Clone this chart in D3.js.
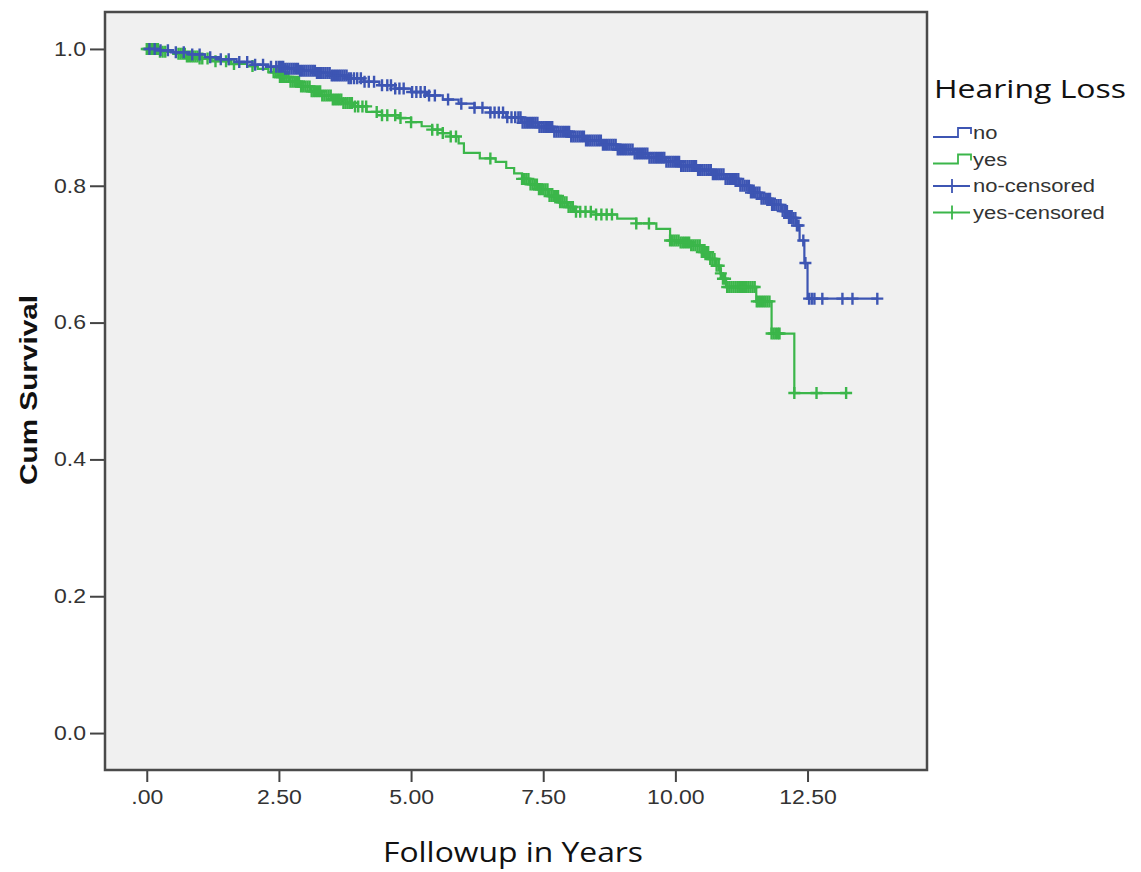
<!DOCTYPE html>
<html>
<head>
<meta charset="utf-8">
<script src="https://cdn.jsdelivr.net/npm/d3@7"></script>
<style>
  body { margin: 0; background: #fff; }
</style>
</head>
<body>
<script>
// step points: time (years) and survival
const noTime = [0, 0.2, 0.5, 0.8, 1.1, 1.4, 1.7, 2.0, 2.3, 2.6, 2.9, 3.2, 3.5, 3.8, 4.1, 4.4, 4.7, 5.0, 5.3, 5.6, 5.9, 6.2, 6.5, 6.8, 7.1, 7.4, 7.7, 8.0, 8.3, 8.6, 8.9, 9.2, 9.5, 9.8, 10.1, 10.4, 10.7, 10.95, 11.2, 11.4, 11.6, 11.8, 12.0, 12.15, 12.29, 12.35, 12.44, 12.5, 13.82];
const noSurv = [1.0, 0.998, 0.995, 0.992, 0.988, 0.985, 0.981, 0.977, 0.974, 0.971, 0.968, 0.965, 0.961, 0.957, 0.952, 0.947, 0.942, 0.937, 0.932, 0.926, 0.92, 0.914, 0.907, 0.9, 0.892, 0.886, 0.879, 0.872, 0.866, 0.86, 0.853, 0.847, 0.841, 0.835, 0.829, 0.823, 0.817, 0.81, 0.8, 0.79, 0.781, 0.772, 0.763, 0.753, 0.742, 0.72, 0.687, 0.635, 0.635];

const yesTime = [0, 0.25, 0.5, 0.75, 1.0, 1.3, 1.6, 1.9, 2.1, 2.3, 2.5, 2.7, 2.9, 3.1, 3.3, 3.5, 3.7, 3.9, 4.16, 4.45, 4.78, 5.0, 5.2, 5.4, 5.6, 5.75, 5.9, 6.0, 6.3, 6.6, 6.8, 6.95, 7.1, 7.25, 7.4, 7.6, 7.8, 7.95, 8.1, 8.5, 8.9, 9.26, 9.64, 9.9, 10.1, 10.27, 10.5, 10.65, 10.77, 10.85, 10.9, 10.96, 11.53, 11.82, 12.25, 13.23];
const yesSurv = [1.0, 0.996, 0.993, 0.989, 0.986, 0.982, 0.978, 0.975, 0.971, 0.966, 0.959, 0.952, 0.945, 0.938, 0.932, 0.926, 0.921, 0.916, 0.908, 0.903, 0.899, 0.893, 0.887, 0.882, 0.877, 0.872, 0.862, 0.848, 0.84, 0.835, 0.826, 0.818, 0.81, 0.802, 0.795, 0.785, 0.776, 0.769, 0.762, 0.758, 0.752, 0.745, 0.737, 0.72, 0.717, 0.713, 0.703, 0.693, 0.683, 0.672, 0.664, 0.652, 0.631, 0.584, 0.497, 0.497];

// censored times
const noCensor = [0.05, 0.15, 0.26, 0.4, 0.55, 0.7, 0.86, 1.0, 1.2, 1.4, 1.55, 1.75, 1.9, 2.05, 2.2, 2.35,
  2.45, 2.5, 2.54, 2.58, 2.62, 2.66, 2.7, 2.74, 2.78, 2.82, 2.86, 2.9, 2.94, 2.98, 3.02, 3.06, 3.1, 3.14, 3.18, 3.22, 3.26, 3.3, 3.34, 3.38, 3.42, 3.46, 3.5, 3.54, 3.58, 3.62, 3.66, 3.7, 3.74, 3.78, 3.82, 3.86, 3.92, 3.98, 4.05, 4.12, 4.2, 4.3, 4.45, 4.55, 4.62, 4.7, 4.78, 4.86, 5.02, 5.1, 5.18, 5.26, 5.34, 5.45, 5.7, 5.95, 6.2, 6.35, 6.5, 6.58, 6.66, 6.74, 6.82, 6.9, 6.97,
  7.03, 7.07, 7.11, 7.15, 7.19, 7.23, 7.27, 7.31, 7.35, 7.39, 7.43, 7.47, 7.51, 7.55, 7.59, 7.63, 7.67, 7.71, 7.75, 7.79, 7.83, 7.87, 7.91, 7.95, 7.99, 8.03, 8.07, 8.11, 8.15, 8.19, 8.23, 8.27, 8.31, 8.35, 8.39, 8.43, 8.47, 8.51, 8.55, 8.59, 8.63, 8.67, 8.71, 8.75, 8.79, 8.83, 8.87, 8.91, 8.95, 8.99,
  9.03, 9.07, 9.11, 9.15, 9.19, 9.23, 9.27, 9.31, 9.35, 9.39, 9.43, 9.47, 9.51, 9.55, 9.59, 9.63, 9.67, 9.71, 9.75, 9.79, 9.83, 9.87, 9.91, 9.95, 9.99, 10.03, 10.07, 10.11, 10.15, 10.19, 10.23, 10.27, 10.31, 10.35, 10.39, 10.43, 10.47, 10.51, 10.55, 10.59, 10.63, 10.67, 10.71, 10.75, 10.79, 10.83, 10.87, 10.91, 10.95, 10.99,
  11.03, 11.07, 11.11, 11.15, 11.19, 11.23, 11.27, 11.31, 11.35, 11.39, 11.43, 11.47, 11.51, 11.55, 11.59, 11.63, 11.67, 11.71, 11.75, 11.79, 11.83, 11.87, 11.91, 11.95, 11.99, 12.03, 12.07, 12.11, 12.15, 12.19, 12.23, 12.27, 12.3, 12.33, 12.42, 12.46, 12.53, 12.58, 12.63, 12.78, 13.16, 13.35, 13.82];

const yesCensor = [0, 0.03, 0.06, 0.09, 0.12, 0.15, 0.18, 0.21, 0.25, 0.3, 0.35, 0.6, 0.64, 0.68, 0.72, 0.76, 0.8, 0.84, 0.88, 0.92, 0.96, 1.0, 1.05, 1.15, 1.3, 1.5, 1.65, 2.0,
  2.4, 2.44, 2.48, 2.52, 2.56, 2.6, 2.64, 2.68, 2.72, 2.76, 2.8, 2.84, 2.88, 2.92, 2.96, 3.0, 3.04, 3.08, 3.12, 3.16, 3.2, 3.24, 3.28, 3.32, 3.36, 3.4, 3.44, 3.48, 3.52, 3.56, 3.6, 3.64, 3.68, 3.72, 3.76, 3.8, 3.84, 3.88, 3.94, 4.0, 4.08, 4.15, 4.35, 4.45, 4.55, 4.7, 4.8, 5.0, 5.4, 5.5, 5.6, 5.75, 5.85, 6.5,
  7.1, 7.14, 7.18, 7.22, 7.26, 7.3, 7.34, 7.38, 7.42, 7.46, 7.5, 7.54, 7.58, 7.62, 7.66, 7.7, 7.74, 7.78, 7.82, 7.86, 7.9, 7.94, 7.98, 8.02, 8.06, 8.12, 8.2, 8.3, 8.4, 8.5, 8.6, 8.7, 8.8, 9.26, 9.5,
  9.9, 9.94, 9.98, 10.02, 10.06, 10.1, 10.14, 10.18, 10.22, 10.26, 10.3, 10.34, 10.38, 10.42, 10.46, 10.5, 10.54, 10.58, 10.62, 10.66, 10.7, 10.74, 10.78, 10.82, 10.86, 10.9, 10.94, 10.98, 11.02, 11.06, 11.1, 11.14, 11.18, 11.22, 11.26, 11.3, 11.34, 11.38, 11.42, 11.46, 11.5, 11.54, 11.58, 11.62, 11.66, 11.7, 11.74, 11.78, 11.82, 11.86, 11.9, 11.94, 11.97, 12.25, 12.67, 13.23];

const xTicks = [0, 2.5, 5, 7.5, 10, 12.5];
const xTickLabels = ['.00', '2.50', '5.00', '7.50', '10.00', '12.50'];
const yTicks = [0, 0.2, 0.4, 0.6, 0.8, 1.0];
const legendLabels = ['no', 'yes', 'no-censored', 'yes-censored'];

const blue = '#3d55b3';
const green = '#3bb64a';

const W = 1141, H = 872;
const plot = {left: 105, top: 12, right: 927, bottom: 770};
const stretch = 1.22; // the reference text is drawn wide

const svg = d3.select('body').append('svg')
    .attr('width', W)
    .attr('height', H);

// widen a text element around its anchor
const widen = (sel, k) => sel.each(function () {
    d3.select(this)
        .attr('textLength', this.getComputedTextLength() * k)
        .attr('lengthAdjust', 'spacingAndGlyphs');
});

const x = d3.scaleLinear()
    .domain([-0.79, 14.76])
    .range([plot.left, plot.right]);

const y = d3.scaleLinear()
    .domain([-0.054, 1.054])
    .range([plot.bottom, plot.top]);

// plot background
svg.append('rect')
    .attr('x', plot.left)
    .attr('y', plot.top)
    .attr('width', plot.right - plot.left)
    .attr('height', plot.bottom - plot.top)
    .attr('fill', '#f0f0f0');

const yAxis = d3.axisLeft(y)
    .tickValues(yTicks)
    .tickFormat(d3.format('.1f'))
    .tickSize(15)
    .tickPadding(4);

const xAxis = d3.axisBottom(x)
    .tickValues(xTicks)
    .tickFormat((d, i) => xTickLabels[i])
    .tickSize(12)
    .tickPadding(8);

const gY = svg.append('g')
    .attr('transform', 'translate(' + plot.left + ',0)')
    .call(yAxis);

const gX = svg.append('g')
    .attr('transform', 'translate(0,' + plot.bottom + ')')
    .call(xAxis);

[gX, gY].forEach(g => {
    g.select('.domain').remove();
    g.selectAll('line').attr('stroke', '#444').attr('stroke-width', 2);
    g.selectAll('text')
        .attr('fill', '#333')
        .style('font-family', 'Liberation Sans, Arial, sans-serif')
        .style('font-size', '20px')
        .call(widen, 1.15);
});

const line = d3.line()
    .x(d => x(d[0]))
    .y(d => y(d[1]))
    .curve(d3.curveStepAfter);

const survAt = (times, surv, t) => surv[Math.max(0, d3.bisectRight(times, t) - 1)];

const curves = [
    {time: noTime, surv: noSurv, cens: noCensor, color: blue},
    {time: yesTime, surv: yesSurv, cens: yesCensor, color: green}
];

// green first so blue sits on top at the start
curves.slice().reverse().forEach(c => {
    svg.append('path')
        .datum(d3.zip(c.time, c.surv))
        .attr('d', line)
        .attr('fill', 'none')
        .attr('stroke', c.color)
        .attr('stroke-width', 2.2);

    const s = 6;
    svg.append('g')
        .selectAll('path')
        .data(c.cens)
        .enter()
        .append('path')
        .attr('d', t => {
            const px = x(t), py = y(survAt(c.time, c.surv, t));
            return 'M' + (px - s) + ',' + py + 'H' + (px + s) + 'M' + px + ',' + (py - s) + 'V' + (py + s);
        })
        .attr('stroke', c.color)
        .attr('stroke-width', 2.4)
        .attr('fill', 'none');
});

// plot frame
svg.append('rect')
    .attr('x', plot.left)
    .attr('y', plot.top)
    .attr('width', plot.right - plot.left)
    .attr('height', plot.bottom - plot.top)
    .attr('fill', 'none')
    .attr('stroke', '#4a4a4a')
    .attr('stroke-width', 2.5);

// axis titles
svg.append('text')
    .attr('transform', 'translate(37,390) rotate(-90)')
    .attr('text-anchor', 'middle')
    .style('font-family', 'Liberation Sans, Arial, sans-serif')
    .style('font-size', '23px')
    .style('font-weight', 'bold')
    .attr('fill', '#111')
    .text('Cum Survival')
    .attr('textLength', 190)
    .attr('lengthAdjust', 'spacingAndGlyphs');

svg.append('text')
    .attr('x', 513)
    .attr('y', 862)
    .attr('text-anchor', 'middle')
    .style('font-family', 'Open Sans, sans-serif')
    .style('font-size', '28px')
    .attr('fill', '#111')
    .text('Followup in Years')
    .attr('textLength', 260)
    .attr('lengthAdjust', 'spacingAndGlyphs');

// legend
const legend = svg.append('g');
legend.append('text')
    .attr('x', 934)
    .attr('y', 98)
    .style('font-family', 'Open Sans, sans-serif')
    .style('font-size', '25px')
    .attr('fill', '#111')
    .text('Hearing Loss')
    .attr('textLength', 192)
    .attr('lengthAdjust', 'spacingAndGlyphs');

const legendColors = [blue, green, blue, green];
legendLabels.forEach((lab, i) => {
    const by = 139 + i * 26.5;
    if (i < 2) {
        legend.append('path')
            .attr('d', 'M933,' + (by - 2) + 'H958V' + (by - 11) + 'H971V' + (by - 5))
            .attr('fill', 'none')
            .attr('stroke', legendColors[i])
            .attr('stroke-width', 1.8);
    } else {
        legend.append('path')
            .attr('d', 'M933,' + (by - 6) + 'H970M952,' + (by - 13) + 'V' + (by + 1))
            .attr('fill', 'none')
            .attr('stroke', legendColors[i])
            .attr('stroke-width', 1.8);
    }
    legend.append('text')
        .attr('x', 973)
        .attr('y', by)
        .style('font-family', 'Liberation Sans, Arial, sans-serif')
        .style('font-size', '18px')
        .attr('fill', '#333')
        .text(lab)
        .call(widen, stretch);
});
</script>
</body>
</html>
